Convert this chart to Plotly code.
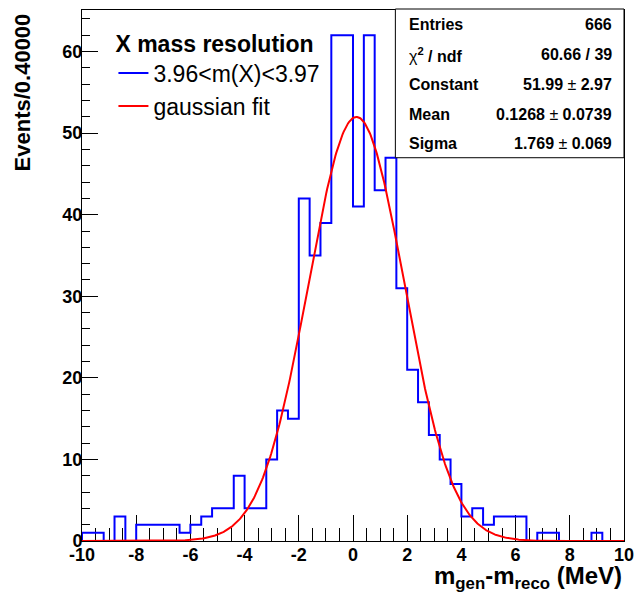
import numpy as np
import plotly.graph_objects as go

# ---- data ----
x_min, x_max, bin_width = -10.0, 10.0, 0.4
counts = [1, 1, 0, 3, 0, 2, 2, 2, 2, 1,
          2, 3, 4, 4, 8, 4, 4, 10, 16, 15,
          42, 35, 39, 62, 62, 41, 62, 43, 47, 31,
          21, 17, 13, 10, 7, 3, 4, 2, 3, 3,
          3, 0, 1, 1, 0, 0, 0, 1, 0, 0]
fit_constant, fit_mean, fit_sigma = 51.99, 0.1268, 1.769
x_tick_values = [-10, -8, -6, -4, -2, 0, 2, 4, 6, 8, 10]
y_tick_values = [0, 10, 20, 30, 40, 50, 60]
stats_labels = ["<b>Entries</b>", "χ<b><sup>2</sup> / ndf</b>", "<b>Constant</b>", "<b>Mean</b>", "<b>Sigma</b>"]
stats_values = ["<b>666</b>", "<b>60.66 / 39</b>", "<b>51.99</b> ± <b>2.97</b>",
                "<b>0.1268</b> ± <b>0.0739</b>", "<b>1.769</b> ± <b>0.069</b>"]
hist_name = "3.96&lt;m(X)&lt;3.97"
fit_name = "gaussian fit"
legend_title = "X mass resolution"

# ---- derived geometry ----
edges = np.round(np.arange(len(counts) + 1) * bin_width + x_min, 6)
xs = [x_min] + list(edges[:-1]) + [x_max, x_max]
ys = [0] + counts + [counts[-1], 0]

xf = np.linspace(x_min, x_max, 600)
yf = fit_constant * np.exp(-0.5 * ((xf - fit_mean) / fit_sigma) ** 2)

FONT = "Liberation Sans, Arial, Helvetica, sans-serif"

fig = go.Figure()
fig.add_trace(go.Scatter(x=xs, y=ys, mode="lines", line=dict(color="#0000ff", width=2, shape="hv"),
                         name=hist_name))
fig.add_trace(go.Scatter(x=xf, y=yf, mode="lines", line=dict(color="#ff0000", width=2),
                         name=fit_name))

fig.update_layout(
    width=643, height=592,
    margin=dict(l=82, r=11, t=9, b=51),
    paper_bgcolor="white", plot_bgcolor="white",
    font=dict(family=FONT, color="black"),
    showlegend=True,
    legend=dict(
        x=0.058, y=0.978, xanchor="left", yanchor="top",
        bgcolor="rgba(0,0,0,0)",
        font=dict(size=23, family=FONT),
        title=dict(text="<b>" + legend_title + "</b>", font=dict(size=23, family=FONT)),
        itemwidth=30, tracegroupgap=0,
    ),
)

fig.update_xaxes(
    range=[x_min, x_max], showgrid=False, zeroline=False,
    showline=True, linecolor="black", linewidth=1, mirror=True,
    ticks="inside", ticklen=26, tickcolor="black", tickwidth=1,
    tickvals=x_tick_values, ticktext=[str(v) for v in x_tick_values],
    tickfont=dict(size=18, family=FONT, weight="bold"),
    ticklabelstandoff=-3,
    minor=dict(ticks="inside", ticklen=13, dtick=0.5, tick0=0, tickcolor="black", showgrid=False),
    layer="below traces",
)
fig.update_yaxes(
    range=[0, 1.05 * max(counts)], showgrid=False, zeroline=False,
    showline=True, linecolor="black", linewidth=1, mirror=True,
    ticks="inside", ticklen=16, tickcolor="black", tickwidth=1,
    tickvals=y_tick_values, ticktext=[str(v) for v in y_tick_values],
    tickfont=dict(size=18, family=FONT, weight="bold"),
    ticklabelstandoff=-5,
    minor=dict(ticks="inside", ticklen=8, dtick=2, tick0=0, tickcolor="black", showgrid=False),
    layer="below traces",
)

# axis titles
fig.add_annotation(text="<b>Events/0.40000</b>", textangle=-90, xref="paper", yref="paper",
                   x=-0.11, y=0.998, xanchor="center", yanchor="top", showarrow=False,
                   font=dict(size=22, family=FONT))
fig.add_annotation(text="<b>m<sub>gen</sub>-m<sub>reco</sub> (MeV)</b>", xref="paper", yref="paper",
                   x=1.0, y=-0.069, xanchor="right", yanchor="middle", showarrow=False,
                   font=dict(size=24, family=FONT))

# stats box
box_l, box_r, box_t, box_b = 400, 632, 8, 157
def px_x(p):
    return (p - 82) / 550
def px_y(p):
    return (541 - p) / 532
fig.add_shape(type="rect", xref="paper", yref="paper",
              x0=px_x(box_l), x1=px_x(box_r), y0=px_y(box_b), y1=px_y(box_t),
              line=dict(color="black", width=1), fillcolor="white", layer="above")
row_h = (box_b - box_t) / len(stats_labels)
for i, (lab, val) in enumerate(zip(stats_labels, stats_values)):
    yc = box_t + row_h * (i + 0.5) + 1
    fig.add_annotation(text=lab, xref="paper", yref="paper",
                       x=px_x(412), y=px_y(yc), xanchor="left", yanchor="middle",
                       showarrow=False, font=dict(size=16, family=FONT))
    fig.add_annotation(text=val, xref="paper", yref="paper",
                       x=px_x(622), y=px_y(yc), xanchor="right", yanchor="middle",
                       showarrow=False, font=dict(size=16, family=FONT))

fig.write_html("out.html")
